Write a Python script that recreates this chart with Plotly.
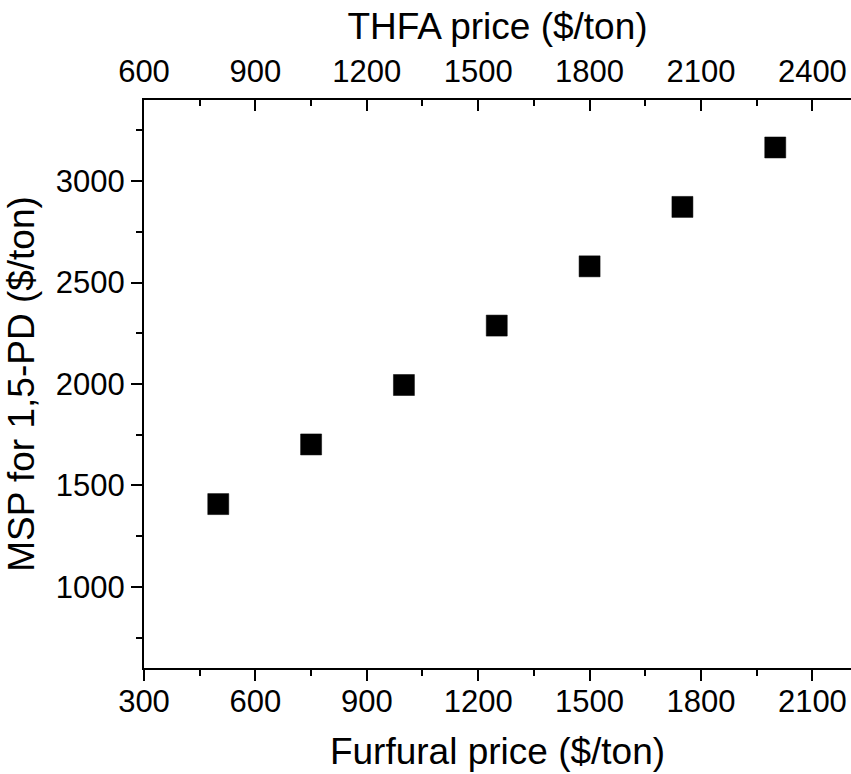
import plotly.graph_objects as go

# Furfural feedstock price vs. minimum selling price of 1,5-pentanediol
furfural_price = [500, 750, 1000, 1250, 1500, 1750, 2000]
msp_15pd = [1408, 1702, 1995, 2288, 2580, 2873, 3166]

FONT = "Arial, Liberation Sans, sans-serif"
TICK_FONT = dict(family=FONT, size=31, color="black")
TITLE_FONT = dict(family=FONT, size=37, color="black")

fig = go.Figure()
fig.add_trace(go.Scatter(
    x=furfural_price, y=msp_15pd, mode="markers",
    marker=dict(symbol="square", size=21, color="black",
                line=dict(color="black", width=0.5)),
    showlegend=False,
))
# empty trace so the top (THFA price) axis is drawn
fig.add_trace(go.Scatter(x=[], y=[], xaxis="x2", yaxis="y",
                         mode="markers", showlegend=False, hoverinfo="skip"))

axis_common = dict(
    showline=True, linecolor="black", linewidth=2,
    showgrid=False, zeroline=False,
    tickcolor="black", tickwidth=2, ticklen=11,
    tickfont=TICK_FONT,
)

fig.update_layout(
    width=851, height=774,
    margin=dict(l=144, r=0, t=100, b=106),
    paper_bgcolor="white", plot_bgcolor="white",
    xaxis=dict(
        **axis_common,
        range=[300, 2204], tickmode="linear", tick0=300, dtick=300,
        ticks="outside", ticklabelstandoff=-6,
        minor=dict(ticks="outside", ticklen=6, tickwidth=2, tickcolor="black", dtick=150, tick0=300),
        title=dict(text="Furfural price ($/ton)", font=TITLE_FONT, standoff=20),
    ),
    xaxis2=dict(
        **axis_common,
        overlaying="x", side="top", anchor="y",
        range=[600, 2504], tickmode="linear", tick0=600, dtick=300,
        ticks="inside", ticklabelstandoff=4,
        minor=dict(ticks="inside", ticklen=6, tickwidth=2, tickcolor="black", dtick=150, tick0=600),
        title=dict(text="THFA price ($/ton)", font=TITLE_FONT, standoff=3),
    ),
    yaxis=dict(
        **axis_common,
        range=[600, 3400], tickmode="linear", tick0=1000, dtick=500,
        ticks="outside",
        minor=dict(ticks="outside", ticklen=6, tickwidth=2, tickcolor="black", dtick=250, tick0=1000),
        title=dict(text="MSP for 1,5-PD ($/ton)", font=TITLE_FONT, standoff=10),
    ),
)

fig.write_html("out.html")
